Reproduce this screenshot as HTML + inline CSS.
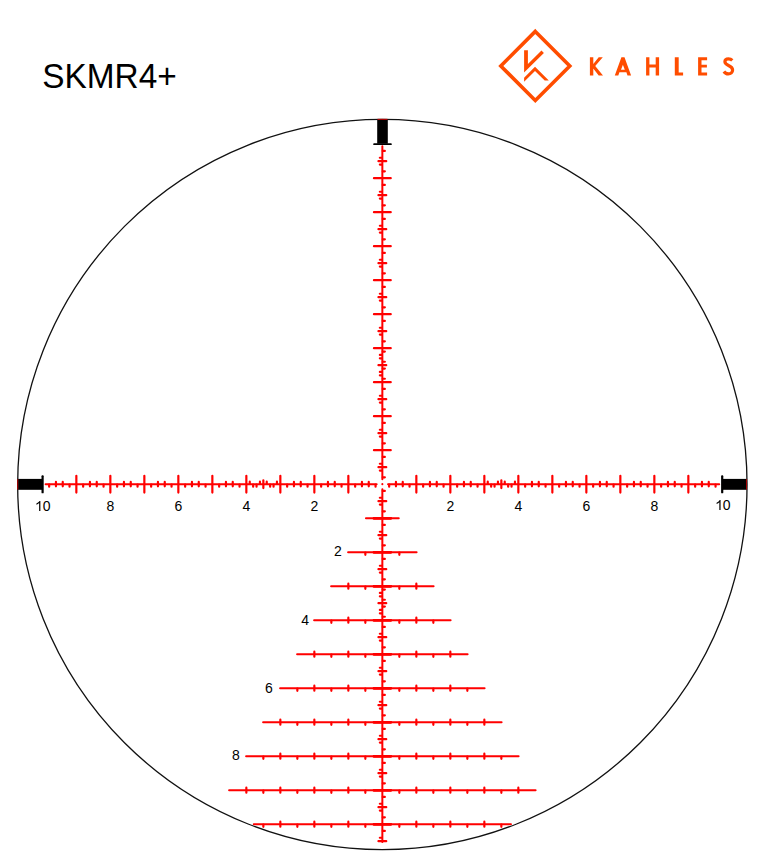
<!DOCTYPE html>
<html><head><meta charset="utf-8"><title>SKMR4+</title>
<style>
html,body{margin:0;padding:0;background:#fff;}
body{width:765px;height:859px;position:relative;overflow:hidden;font-family:"Liberation Sans",sans-serif;}
</style></head><body>
<svg width="765" height="859" viewBox="0 0 765 859" style="position:absolute;left:0;top:0">
<defs><clipPath id="c"><ellipse cx="382.35" cy="484.55" rx="363.9" ry="364.3"/></clipPath></defs>
<g clip-path="url(#c)">
<path d="M382.35 146.2L382.35 479.15M382.35 489.15L382.35 841.95M45.6 484.15L376.65 484.15M388.05 484.15L719.2 484.15M365.95 518.15L398.75 518.15M348.1 552.15L416.6 552.15M331.1 586.15L433.6 586.15M314.1 620.15L450.6 620.15M297.1 654.15L467.6 654.15M280.1 688.15L484.6 688.15M263.1 722.15L501.6 722.15M246.1 756.15L518.6 756.15M229.1 790.15L535.6 790.15M253.75 824.15L510.95 824.15" fill="none" stroke="#ff0000" stroke-width="2.0" stroke-linecap="round"/>
<path d="M382.75 477.35L384.85 477.35M379.85 470.55L381.95 470.55M378.45 467.15L386.25 467.15M379.85 463.75L381.95 463.75M382.75 456.95L384.85 456.95M373.95 450.15L390.75 450.15M382.75 443.35L384.85 443.35M379.85 436.55L381.95 436.55M378.45 433.15L386.25 433.15M379.85 429.75L381.95 429.75M382.75 422.95L384.85 422.95M373.95 416.15L390.75 416.15M382.75 409.35L384.85 409.35M379.85 402.55L381.95 402.55M378.45 399.15L386.25 399.15M379.85 395.75L381.95 395.75M382.75 388.95L384.85 388.95M373.95 382.15L390.75 382.15M382.75 378.75L384.85 378.75M379.85 375.35L381.95 375.35M379.85 371.95L381.95 371.95M382.75 368.55L384.85 368.55M378.45 365.15L386.25 365.15M382.75 361.75L384.85 361.75M379.85 358.35L381.95 358.35M379.85 354.95L381.95 354.95M382.75 351.55L384.85 351.55M373.95 348.15L390.75 348.15M382.75 341.35L384.85 341.35M379.85 334.55L381.95 334.55M378.45 331.15L386.25 331.15M379.85 327.75L381.95 327.75M382.75 320.95L384.85 320.95M373.95 314.15L390.75 314.15M382.75 307.35L384.85 307.35M379.85 300.55L381.95 300.55M378.45 297.15L386.25 297.15M379.85 293.75L381.95 293.75M382.75 286.95L384.85 286.95M373.95 280.15L390.75 280.15M382.75 273.35L384.85 273.35M379.85 266.55L381.95 266.55M378.45 263.15L386.25 263.15M379.85 259.75L381.95 259.75M382.75 252.95L384.85 252.95M373.95 246.15L390.75 246.15M382.75 239.35L384.85 239.35M379.85 232.55L381.95 232.55M378.45 229.15L386.25 229.15M379.85 225.75L381.95 225.75M382.75 218.95L384.85 218.95M373.95 212.15L390.75 212.15M382.75 205.35L384.85 205.35M379.85 198.55L381.95 198.55M378.45 195.15L386.25 195.15M379.85 191.75L381.95 191.75M382.75 184.95L384.85 184.95M373.95 178.15L390.75 178.15M382.75 171.35L384.85 171.35M379.85 164.55L381.95 164.55M378.45 161.15L386.25 161.15M379.85 157.75L381.95 157.75M382.75 150.95L384.85 150.95M382.75 490.95L384.85 490.95M379.85 497.75L381.95 497.75M378.45 501.15L386.25 501.15M379.85 504.55L381.95 504.55M382.75 511.35L384.85 511.35M373.95 518.15L390.75 518.15M382.75 524.95L384.85 524.95M379.85 531.75L381.95 531.75M378.45 535.15L386.25 535.15M379.85 538.55L381.95 538.55M382.75 545.35L384.85 545.35M373.95 552.15L390.75 552.15M382.75 558.95L384.85 558.95M379.85 565.75L381.95 565.75M378.45 569.15L386.25 569.15M379.85 572.55L381.95 572.55M382.75 579.35L384.85 579.35M373.95 586.15L390.75 586.15M382.75 589.55L384.85 589.55M379.85 592.95L381.95 592.95M379.85 596.35L381.95 596.35M382.75 599.75L384.85 599.75M378.45 603.15L386.25 603.15M382.75 606.55L384.85 606.55M379.85 609.95L381.95 609.95M379.85 613.35L381.95 613.35M382.75 616.75L384.85 616.75M373.95 620.15L390.75 620.15M382.75 626.95L384.85 626.95M379.85 633.75L381.95 633.75M378.45 637.15L386.25 637.15M379.85 640.55L381.95 640.55M382.75 647.35L384.85 647.35M373.95 654.15L390.75 654.15M382.75 660.95L384.85 660.95M379.85 667.75L381.95 667.75M378.45 671.15L386.25 671.15M379.85 674.55L381.95 674.55M382.75 681.35L384.85 681.35M373.95 688.15L390.75 688.15M382.75 694.95L384.85 694.95M379.85 701.75L381.95 701.75M378.45 705.15L386.25 705.15M379.85 708.55L381.95 708.55M382.75 715.35L384.85 715.35M373.95 722.15L390.75 722.15M382.75 728.95L384.85 728.95M379.85 735.75L381.95 735.75M378.45 739.15L386.25 739.15M379.85 742.55L381.95 742.55M382.75 749.35L384.85 749.35M373.95 756.15L390.75 756.15M382.75 762.95L384.85 762.95M379.85 769.75L381.95 769.75M378.45 773.15L386.25 773.15M379.85 776.55L381.95 776.55M382.75 783.35L384.85 783.35M373.95 790.15L390.75 790.15M382.75 796.95L384.85 796.95M379.85 803.75L381.95 803.75M378.45 807.15L386.25 807.15M379.85 810.55L381.95 810.55M382.75 817.35L384.85 817.35M373.95 824.15L390.75 824.15M382.75 830.95L384.85 830.95M379.85 837.75L381.95 837.75M378.45 841.15L386.25 841.15M375.55 484.55L375.55 486.65M368.75 481.95L368.75 486.35M361.95 481.95L361.95 486.35M355.15 484.55L355.15 486.65M348.35 475.75L348.35 492.55M341.55 484.55L341.55 486.65M334.75 481.95L334.75 486.35M327.95 481.95L327.95 486.35M321.15 484.55L321.15 486.65M314.35 475.75L314.35 492.55M307.55 484.55L307.55 486.65M300.75 481.95L300.75 486.35M293.95 481.95L293.95 486.35M287.15 484.55L287.15 486.65M280.35 475.75L280.35 492.55M276.95 481.65L276.95 483.75M273.55 484.55L273.55 486.65M270.15 484.55L270.15 486.65M266.75 481.65L266.75 483.75M263.35 480.25L263.35 488.05M259.95 481.65L259.95 483.75M256.55 484.55L256.55 486.65M253.15 484.55L253.15 486.65M249.75 481.65L249.75 483.75M246.35 475.75L246.35 492.55M239.55 484.55L239.55 486.65M232.75 481.95L232.75 486.35M225.95 481.95L225.95 486.35M219.15 484.55L219.15 486.65M212.35 475.75L212.35 492.55M205.55 484.55L205.55 486.65M198.75 481.95L198.75 486.35M191.95 481.95L191.95 486.35M185.15 484.55L185.15 486.65M178.35 475.75L178.35 492.55M171.55 484.55L171.55 486.65M164.75 481.95L164.75 486.35M157.95 481.95L157.95 486.35M151.15 484.55L151.15 486.65M144.35 475.75L144.35 492.55M137.55 484.55L137.55 486.65M130.75 481.95L130.75 486.35M123.95 481.95L123.95 486.35M117.15 484.55L117.15 486.65M110.35 475.75L110.35 492.55M103.55 484.55L103.55 486.65M96.75 481.95L96.75 486.35M89.95 481.95L89.95 486.35M83.15 484.55L83.15 486.65M76.35 475.75L76.35 492.55M69.55 484.55L69.55 486.65M62.75 481.95L62.75 486.35M55.95 481.95L55.95 486.35M49.15 484.55L49.15 486.65M389.15 484.55L389.15 486.65M395.95 481.95L395.95 486.35M402.75 481.95L402.75 486.35M409.55 484.55L409.55 486.65M416.35 475.75L416.35 492.55M423.15 484.55L423.15 486.65M429.95 481.95L429.95 486.35M436.75 481.95L436.75 486.35M443.55 484.55L443.55 486.65M450.35 475.75L450.35 492.55M457.15 484.55L457.15 486.65M463.95 481.95L463.95 486.35M470.75 481.95L470.75 486.35M477.55 484.55L477.55 486.65M484.35 475.75L484.35 492.55M487.75 481.65L487.75 483.75M491.15 484.55L491.15 486.65M494.55 484.55L494.55 486.65M497.95 481.65L497.95 483.75M501.35 480.25L501.35 488.05M504.75 481.65L504.75 483.75M508.15 484.55L508.15 486.65M511.55 484.55L511.55 486.65M514.95 481.65L514.95 483.75M518.35 475.75L518.35 492.55M525.15 484.55L525.15 486.65M531.95 481.95L531.95 486.35M538.75 481.95L538.75 486.35M545.55 484.55L545.55 486.65M552.35 475.75L552.35 492.55M559.15 484.55L559.15 486.65M565.95 481.95L565.95 486.35M572.75 481.95L572.75 486.35M579.55 484.55L579.55 486.65M586.35 475.75L586.35 492.55M593.15 484.55L593.15 486.65M599.95 481.95L599.95 486.35M606.75 481.95L606.75 486.35M613.55 484.55L613.55 486.65M620.35 475.75L620.35 492.55M627.15 484.55L627.15 486.65M633.95 481.95L633.95 486.35M640.75 481.95L640.75 486.35M647.55 484.55L647.55 486.65M654.35 475.75L654.35 492.55M661.15 484.55L661.15 486.65M667.95 481.95L667.95 486.35M674.75 481.95L674.75 486.35M681.55 484.55L681.55 486.65M688.35 475.75L688.35 492.55M695.15 484.55L695.15 486.65M701.95 481.95L701.95 486.35M708.75 481.95L708.75 486.35M715.55 484.55L715.55 486.65M365.35 552.55L365.35 554.85M399.35 552.55L399.35 554.85M365.35 586.55L365.35 588.85M399.35 586.55L399.35 588.85M348.35 583.65L348.35 588.65M416.35 583.65L416.35 588.65M365.35 620.55L365.35 622.85M399.35 620.55L399.35 622.85M348.35 617.65L348.35 622.65M416.35 617.65L416.35 622.65M331.35 620.55L331.35 622.85M433.35 620.55L433.35 622.85M365.35 654.55L365.35 656.85M399.35 654.55L399.35 656.85M348.35 651.65L348.35 656.65M416.35 651.65L416.35 656.65M331.35 654.55L331.35 656.85M433.35 654.55L433.35 656.85M314.35 651.65L314.35 656.65M450.35 651.65L450.35 656.65M365.35 688.55L365.35 690.85M399.35 688.55L399.35 690.85M348.35 685.65L348.35 690.65M416.35 685.65L416.35 690.65M331.35 688.55L331.35 690.85M433.35 688.55L433.35 690.85M314.35 685.65L314.35 690.65M450.35 685.65L450.35 690.65M297.35 688.55L297.35 690.85M467.35 688.55L467.35 690.85M365.35 722.55L365.35 724.85M399.35 722.55L399.35 724.85M348.35 719.65L348.35 724.65M416.35 719.65L416.35 724.65M331.35 722.55L331.35 724.85M433.35 722.55L433.35 724.85M314.35 719.65L314.35 724.65M450.35 719.65L450.35 724.65M297.35 722.55L297.35 724.85M467.35 722.55L467.35 724.85M280.35 719.65L280.35 724.65M484.35 719.65L484.35 724.65M365.35 756.55L365.35 758.85M399.35 756.55L399.35 758.85M348.35 753.65L348.35 758.65M416.35 753.65L416.35 758.65M331.35 756.55L331.35 758.85M433.35 756.55L433.35 758.85M314.35 753.65L314.35 758.65M450.35 753.65L450.35 758.65M297.35 756.55L297.35 758.85M467.35 756.55L467.35 758.85M280.35 753.65L280.35 758.65M484.35 753.65L484.35 758.65M263.35 756.55L263.35 758.85M501.35 756.55L501.35 758.85M365.35 790.55L365.35 792.85M399.35 790.55L399.35 792.85M348.35 787.65L348.35 792.65M416.35 787.65L416.35 792.65M331.35 790.55L331.35 792.85M433.35 790.55L433.35 792.85M314.35 787.65L314.35 792.65M450.35 787.65L450.35 792.65M297.35 790.55L297.35 792.85M467.35 790.55L467.35 792.85M280.35 787.65L280.35 792.65M484.35 787.65L484.35 792.65M263.35 790.55L263.35 792.85M501.35 790.55L501.35 792.85M246.35 787.65L246.35 792.65M518.35 787.65L518.35 792.65M365.35 824.55L365.35 826.85M399.35 824.55L399.35 826.85M348.35 821.65L348.35 826.65M416.35 821.65L416.35 826.65M331.35 824.55L331.35 826.85M433.35 824.55L433.35 826.85M314.35 821.65L314.35 826.65M450.35 821.65L450.35 826.65M297.35 824.55L297.35 826.85M467.35 824.55L467.35 826.85M280.35 821.65L280.35 826.65M484.35 821.65L484.35 826.65M263.35 824.55L263.35 826.85M501.35 824.55L501.35 826.85" fill="none" stroke="#ff0000" stroke-width="2.2" stroke-linecap="round"/>
<path d="M373.95 518.45L390.75 518.45M373.95 552.45L390.75 552.45M373.95 586.45L390.75 586.45M373.95 620.45L390.75 620.45M373.95 654.45L390.75 654.45M373.95 688.45L390.75 688.45M373.95 722.45L390.75 722.45M373.95 756.45L390.75 756.45M373.95 790.45L390.75 790.45M373.95 824.45L390.75 824.45" fill="none" stroke="#ff0000" stroke-width="2.7" stroke-linecap="round"/>
<circle cx="382.35" cy="484.15" r="1.05" fill="#ff0000"/>
</g>
<rect x="722.3" y="478.9" width="24.2" height="10.9" fill="#000"/>
<ellipse cx="382.35" cy="484.55" rx="364.7" ry="365.1" fill="none" stroke="#111" stroke-width="1.3"/>
<rect x="18.1" y="478.9" width="24.5" height="10.9" fill="#000"/>
<rect x="41.5" y="475.3" width="2.2" height="18" rx="0.9" fill="#000"/>
<rect x="721.1" y="475.3" width="2.2" height="18" rx="0.9" fill="#000"/>
<rect x="377.2" y="119.9" width="10.6" height="23.8" fill="#000"/>
<rect x="373.2" y="143.2" width="18.6" height="1.9" rx="0.9" fill="#000"/>
<rect x="377.5" y="118.8" width="10" height="1.2" fill="#a80000"/>
<rect x="17.1" y="479.1" width="1.1" height="10.5" fill="#a80000"/>
<rect x="746.0" y="479.1" width="1.0" height="10.5" fill="#a00000"/>
<g font-family="Liberation Sans, sans-serif" font-size="14" fill="#000"><text x="314.35" y="510.9" text-anchor="middle">2</text><text x="450.35" y="510.9" text-anchor="middle">2</text><text x="246.35" y="510.9" text-anchor="middle">4</text><text x="518.35" y="510.9" text-anchor="middle">4</text><text x="178.35" y="510.9" text-anchor="middle">6</text><text x="586.35" y="510.9" text-anchor="middle">6</text><text x="110.35" y="510.9" text-anchor="middle">8</text><text x="654.35" y="510.9" text-anchor="middle">8</text><polygon points="40.37,510.9 39.14,510.9 39.14,503.06 37.95,504.04 36.39,504.74 36.39,503.55 38.37,502.36 39.57,500.88 40.37,500.88"/><text x="46.54" y="510.9" text-anchor="middle">0</text><polygon points="720.57,510.1 719.34,510.1 719.34,502.26 718.15,503.24 716.59,503.94 716.59,502.75 718.57,501.56 719.77,500.08 720.57,500.08"/><text x="726.74" y="510.1" text-anchor="middle">0</text><text x="338" y="556" text-anchor="middle">2</text><text x="305.1" y="625.1" text-anchor="middle">4</text><text x="268.9" y="693.1" text-anchor="middle">6</text><text x="236" y="760" text-anchor="middle">8</text></g>
<g fill="#ff4d00">
<polygon points="535.3,31.4 569.8,65.9 535.3,100.4 500.8,65.9" fill="none" stroke="#ff4d00" stroke-width="3.6" stroke-linejoin="miter"/>
<polygon points="524.1,50.3 527.9,50.3 527.9,64.1 541.5,50.6 543.9,52.9 524.1,72.4"/>
<polygon points="524.1,77.7 535,66.8 548.8,80.6 544.7,80.6 535,70.9 524.1,81.8"/>
<path d="M589.9 57.3h3.4v18.1h-3.4zM598.7 57.3h4.1l-7.6 8.7 7.8 9.4h-4.3l-6.2-7.9v-2.6z"/>
<path d="M621.4 57.3h3.1l6.6 18.1h-3.6l-1.1-3.2h-7l-1.1 3.2h-3.5zM621 69.8h3.8l-1.9-5z"/>
<path d="M646.1 57.3h3.3v7.3h6.3v-7.3h3.4v18.1h-3.4v-8h-6.3v8h-3.3z"/>
<path d="M674.8 57.3h3.9v15.3h4.4v2.8h-8.3z"/>
<path d="M698.1 57.3h9v2.9h-5.6v4.6h5.4v2.8h-5.4v5h5.6v2.8h-9z"/>
<path d="M732.3 60.3 C731.2 59.2 729.9 58.8 728.5 58.8 C726.3 58.8 724.9 60.1 724.9 61.8 C724.9 66.2 732.6 64.8 732.6 70 C732.6 72.4 730.8 73.9 728.3 73.9 C726.4 73.9 724.9 73 723.9 71.5" fill="none" stroke="#ff4d00" stroke-width="3.2"/>
</g>
<text transform="translate(42.2,87.7) scale(1,1.035)" font-family="Liberation Sans, sans-serif" font-size="33.4" fill="#000">SKMR4+</text>
</svg>
</body></html>
